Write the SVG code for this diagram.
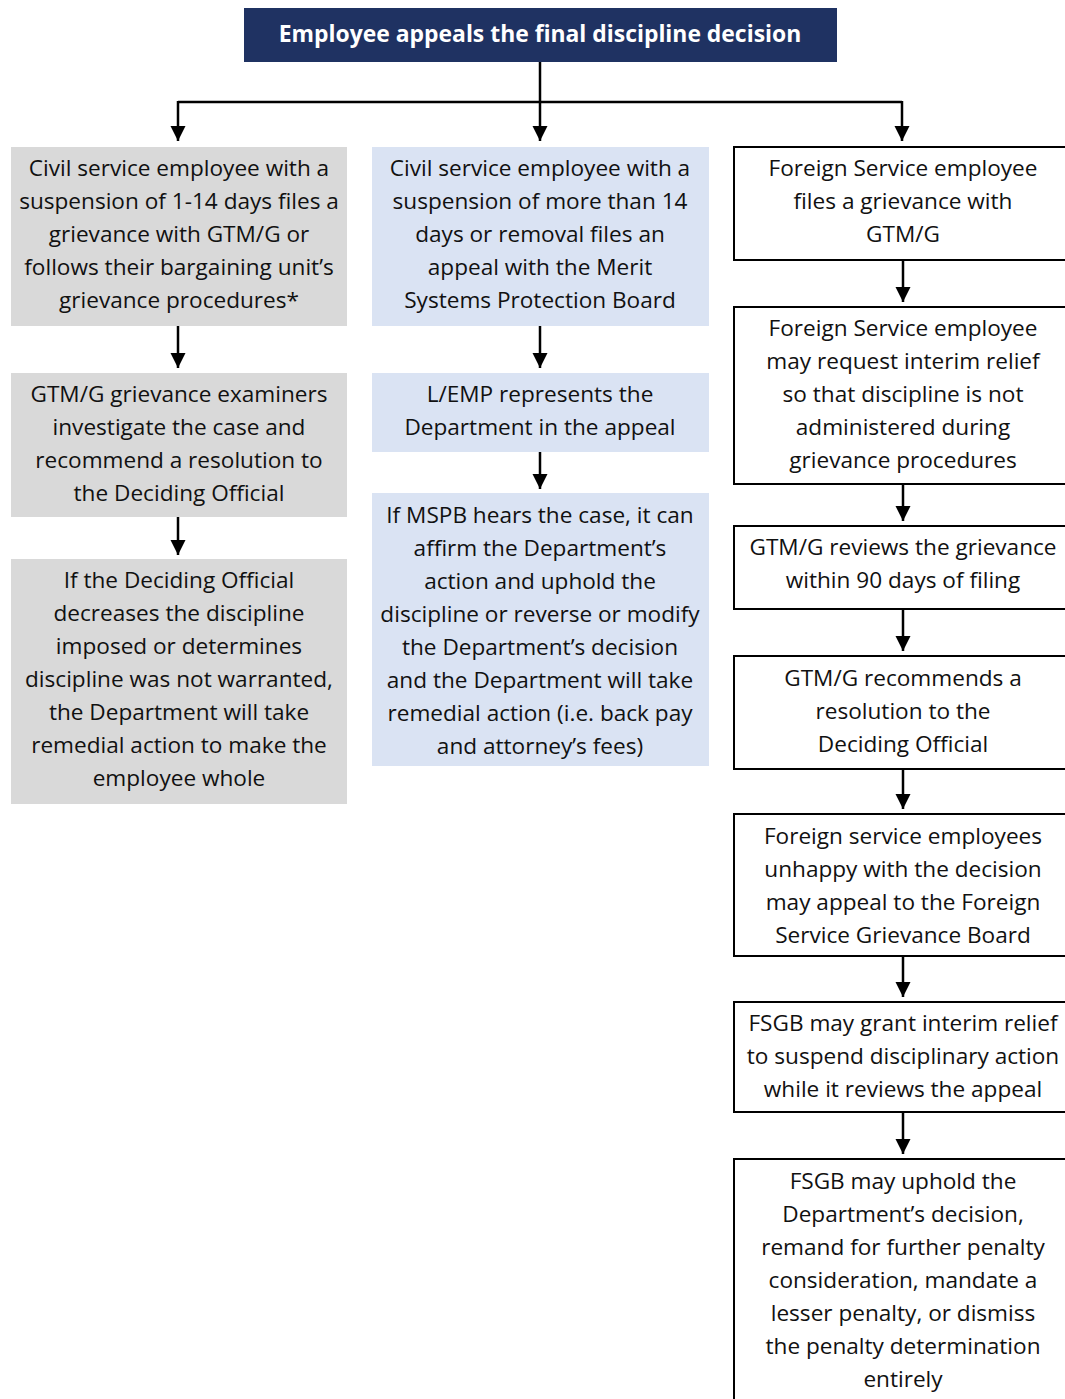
<svg xmlns="http://www.w3.org/2000/svg" width="1065" height="1399" viewBox="0 0 1065 1399">
<style>
.t{font-family:"Open Sans","Liberation Sans",sans-serif;font-size:22.6px;fill:#111;text-anchor:middle}
.h{font-family:"Open Sans","Liberation Sans",sans-serif;font-size:22.9px;font-weight:bold;fill:#fff;text-anchor:middle}
.g{fill:#d9d9d9}
.b{fill:#dae3f3}
.w{fill:#fff;stroke:#000;stroke-width:2}
.c{fill:none;stroke:#000;stroke-width:2.5}
</style>
<defs>
<marker id="ah" viewBox="0 0 10 10" refX="10" refY="5" markerWidth="6.2" markerHeight="6.2" markerUnits="strokeWidth" orient="auto">
<path d="M0,0 L10,5 L0,10 z" fill="#000"/>
</marker>
</defs>
<rect width="1065" height="1399" fill="#fff"/>
<g id="connectors">
<path class="c" d="M540,62 V141" marker-end="url(#ah)"/>
<path class="c" d="M178,102 H902"/>
<path class="c" d="M178,101 V141" marker-end="url(#ah)"/>
<path class="c" d="M902,101 V141" marker-end="url(#ah)"/>
<path class="c" d="M178,326 V368" marker-end="url(#ah)"/>
<path class="c" d="M178,517 V555" marker-end="url(#ah)"/>
<path class="c" d="M540,326 V368" marker-end="url(#ah)"/>
<path class="c" d="M540,452 V489" marker-end="url(#ah)"/>
<path class="c" d="M903,260 V302" marker-end="url(#ah)"/>
<path class="c" d="M903,484 V521" marker-end="url(#ah)"/>
<path class="c" d="M903,609 V651" marker-end="url(#ah)"/>
<path class="c" d="M903,769 V809" marker-end="url(#ah)"/>
<path class="c" d="M903,956 V997" marker-end="url(#ah)"/>
<path class="c" d="M903,1112 V1154" marker-end="url(#ah)"/>
</g>
<g id="top">
<rect x="244" y="8" width="593" height="54" fill="#1f3262"/>
<text class="h" x="540" y="42">Employee appeals the final discipline decision</text>
</g>
<g id="l1">
<rect class="g" x="11" y="147" width="336" height="179"/>
<text class="t"><tspan x="179" y="176">Civil service employee with a</tspan><tspan x="179" y="209">suspension of 1-14 days files a</tspan><tspan x="179" y="242">grievance with GTM/G or</tspan><tspan x="179" y="275">follows their bargaining unit’s</tspan><tspan x="179" y="308">grievance procedures*</tspan></text>
</g>
<g id="l2">
<rect class="g" x="11" y="373" width="336" height="144"/>
<text class="t"><tspan x="179" y="402">GTM/G grievance examiners</tspan><tspan x="179" y="435">investigate the case and</tspan><tspan x="179" y="468">recommend a resolution to</tspan><tspan x="179" y="501">the Deciding Official</tspan></text>
</g>
<g id="l3">
<rect class="g" x="11" y="559" width="336" height="245"/>
<text class="t"><tspan x="179" y="588">If the Deciding Official</tspan><tspan x="179" y="621">decreases the discipline</tspan><tspan x="179" y="654">imposed or determines</tspan><tspan x="179" y="687">discipline was not warranted,</tspan><tspan x="179" y="720">the Department will take</tspan><tspan x="179" y="753">remedial action to make the</tspan><tspan x="179" y="786">employee whole</tspan></text>
</g>
<g id="m1">
<rect class="b" x="372" y="147" width="337" height="179"/>
<text class="t"><tspan x="540" y="176">Civil service employee with a</tspan><tspan x="540" y="209">suspension of more than 14</tspan><tspan x="540" y="242">days or removal files an</tspan><tspan x="540" y="275">appeal with the Merit</tspan><tspan x="540" y="308">Systems Protection Board</tspan></text>
</g>
<g id="m2">
<rect class="b" x="372" y="373" width="337" height="79"/>
<text class="t"><tspan x="540" y="402">L/EMP represents the</tspan><tspan x="540" y="435">Department in the appeal</tspan></text>
</g>
<g id="m3">
<rect class="b" x="372" y="493" width="337" height="273"/>
<text class="t"><tspan x="540" y="523">If MSPB hears the case, it can</tspan><tspan x="540" y="556">affirm the Department’s</tspan><tspan x="540" y="589">action and uphold the</tspan><tspan x="540" y="622">discipline or reverse or modify</tspan><tspan x="540" y="655">the Department’s decision</tspan><tspan x="540" y="688">and the Department will take</tspan><tspan x="540" y="721">remedial action (i.e. back pay</tspan><tspan x="540" y="754">and attorney’s fees)</tspan></text>
</g>
<g id="r1">
<rect class="w" x="734" y="147" width="345" height="113"/>
<text class="t"><tspan x="903" y="176">Foreign Service employee</tspan><tspan x="903" y="209">files a grievance with</tspan><tspan x="903" y="242">GTM/G</tspan></text>
</g>
<g id="r2">
<rect class="w" x="734" y="307" width="345" height="177"/>
<text class="t"><tspan x="903" y="336">Foreign Service employee</tspan><tspan x="903" y="369">may request interim relief</tspan><tspan x="903" y="402">so that discipline is not</tspan><tspan x="903" y="435">administered during</tspan><tspan x="903" y="468">grievance procedures</tspan></text>
</g>
<g id="r3">
<rect class="w" x="734" y="526" width="345" height="83"/>
<text class="t"><tspan x="903" y="555">GTM/G reviews the grievance</tspan><tspan x="903" y="588">within 90 days of filing</tspan></text>
</g>
<g id="r4">
<rect class="w" x="734" y="656" width="345" height="113"/>
<text class="t"><tspan x="903" y="686">GTM/G recommends a</tspan><tspan x="903" y="719">resolution to the</tspan><tspan x="903" y="752">Deciding Official</tspan></text>
</g>
<g id="r5">
<rect class="w" x="734" y="814" width="345" height="142"/>
<text class="t"><tspan x="903" y="844">Foreign service employees</tspan><tspan x="903" y="877">unhappy with the decision</tspan><tspan x="903" y="910">may appeal to the Foreign</tspan><tspan x="903" y="943">Service Grievance Board</tspan></text>
</g>
<g id="r6">
<rect class="w" x="734" y="1002" width="345" height="110"/>
<text class="t"><tspan x="903" y="1031">FSGB may grant interim relief</tspan><tspan x="903" y="1064">to suspend disciplinary action</tspan><tspan x="903" y="1097">while it reviews the appeal</tspan></text>
</g>
<g id="r7">
<rect class="w" x="734" y="1159" width="345" height="260"/>
<text class="t"><tspan x="903" y="1189">FSGB may uphold the</tspan><tspan x="903" y="1222">Department’s decision,</tspan><tspan x="903" y="1255">remand for further penalty</tspan><tspan x="903" y="1288">consideration, mandate a</tspan><tspan x="903" y="1321">lesser penalty, or dismiss</tspan><tspan x="903" y="1354">the penalty determination</tspan><tspan x="903" y="1387">entirely</tspan></text>
</g>
</svg>
